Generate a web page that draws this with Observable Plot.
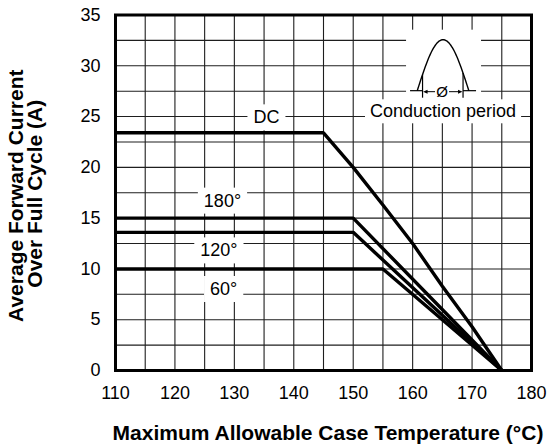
<!DOCTYPE html>
<html><head><meta charset="utf-8">
<script src="https://cdn.jsdelivr.net/npm/d3@7"></script>
<script src="https://cdn.jsdelivr.net/npm/@observablehq/plot@0.6"></script>
<style>body{margin:0;background:#fff;}</style>
</head><body><div id="chart"></div>
<script>
// ---- data ----
const xTicks = [110,120,130,140,150,160,170,180];
const yTicks = [0,5,10,15,20,25,30,35];
const xGrid = [110,115,120,125,130,135,140,145,150,155,160,165,170,175,180];
const yGrid = [0,2.5,5,7.5,10,12.5,15,17.5,20,22.5,25,27.5,30,32.5,35];

const dcTemp = [110,145,150,155,160,165,170,175];
const dcCurrent = [23.4,23.4,20,16.3,12.5,8.3,4.3,0];
const deg180Temp = [110,150,175];
const deg180Current = [15,15,0];
const deg120Temp = [110,150,175];
const deg120Current = [13.6,13.6,0];
const deg60Temp = [110,155,175];
const deg60Current = [10,10,0];

const labelText = ["DC","180°","120°","60°"];
const labelX = [135.4,128,127.4,128.2];
const labelY = [24.9,16.7,11.8,8.0];

const insetCenterX = 165.2;
const insetBaseY = 27.5;
const insetLabel = "Conduction period";
const insetLabelY = 25.5;

const xTitle = "Maximum Allowable Case Temperature (°C)";
const yTitle1 = "Average Forward Current";
const yTitle2 = "Over Full Cycle (A)";

// ---- build tables ----
const curves = [
  ...dcTemp.map((t,i)=>({temp:t, current:dcCurrent[i], s:"DC"})),
  ...deg180Temp.map((t,i)=>({temp:t, current:deg180Current[i], s:"180"})),
  ...deg120Temp.map((t,i)=>({temp:t, current:deg120Current[i], s:"120"})),
  ...deg60Temp.map((t,i)=>({temp:t, current:deg60Current[i], s:"60"}))
];
const labels = labelText.map((t,i)=>({text:t, x:labelX[i], y:labelY[i]}));

const FONT = "'Liberation Sans', Arial, Helvetica, sans-serif";

const chart = Plot.plot({
  width: 548,
  height: 444,
  marginLeft: 115,
  marginRight: 17,
  marginTop: 14.5,
  marginBottom: 74,
  x: {domain: [110,180]},
  y: {domain: [0,35]},
  style: {fontFamily: FONT, background: "white", color: "black"},
  marks: [
    Plot.ruleX(xGrid, {stroke: "#1e1e1e", strokeWidth: 1.1}),
    Plot.ruleY(yGrid, {stroke: "#1e1e1e", strokeWidth: 1.1}),
    Plot.text(labels, {x: "x", y: "y", text: "text", fontSize: 18, fill: "black"}),
    Plot.line(curves, {x: "temp", y: "current", z: "s", stroke: "black", strokeWidth: 3.4, strokeLinejoin: "miter", strokeLinecap: "butt"}),
    Plot.frame({stroke: "black", strokeWidth: 3}),
    Plot.axisX(xTicks, {tickSize: 0, tickPadding: 16, fontSize: 18, label: null}),
    Plot.axisY(yTicks, {tickSize: 0, tickPadding: 15, fontSize: 18, label: null}),
    Plot.text([xTitle], {frameAnchor: "bottom", textAnchor: "middle", dx: 4.5, dy: 69, lineAnchor: "bottom", fontSize: 21, fontWeight: "bold", text: d => d}),
    Plot.text([yTitle1], {frameAnchor: "left", textAnchor: "middle", rotate: -90, dx: -92.5, dy: 3, lineAnchor: "bottom", fontSize: 21, fontWeight: "bold", text: d => d}),
    Plot.text([yTitle2], {frameAnchor: "left", textAnchor: "middle", rotate: -90, dx: -74, dy: 1, lineAnchor: "bottom", fontSize: 21, fontWeight: "bold", text: d => d})
  ]
});
document.getElementById("chart").append(chart);

const NS = "http://www.w3.org/2000/svg";
function boxBehind(textEl, padX, padY) {
  const b = textEl.getBBox();
  const r = document.createElementNS(NS, "rect");
  r.setAttribute("x", b.x - padX);
  r.setAttribute("y", b.y - padY);
  r.setAttribute("width", b.width + 2*padX);
  r.setAttribute("height", b.height + 2*padY);
  r.setAttribute("fill", "white");
  const tr = textEl.getAttribute("transform");
  if (tr) r.setAttribute("transform", tr);
  textEl.parentNode.insertBefore(r, textEl);
}
d3.select(chart).selectAll("text")
  .filter(function(){ return labelText.includes(this.textContent.trim()); })
  .each(function(){ boxBehind(this, 6, 3); });

// ---- inset (conduction period glyph) ----
const sx = chart.scale("x"), sy = chart.scale("y");
const cx = sx.apply(insetCenterX), by = sy.apply(insetBaseY);
const svg = d3.select(chart);
const g = svg.append("g").attr("aria-label", "inset");
g.append("rect").attr("x", cx-37).attr("y", by-61).attr("width", 75).attr("height", 74).attr("fill", "white");
const hw = 25.8, hh = 51;
const humpY = px => by - hh*Math.sin(Math.PI*(px-(cx-hw))/(2*hw));
const pts = d3.range(0, 61).map(i => { const px = cx-hw + 2*hw*i/60; return [px, humpY(px)]; });
g.append("path").attr("d", d3.line()(pts)).attr("fill","none").attr("stroke","black").attr("stroke-width",1.4);
const vl = cx-20.5, vr = cx+20;
g.append("line").attr("x1",vl).attr("x2",vl).attr("y1",humpY(vl)).attr("y2",by+7).attr("stroke","black").attr("stroke-width",1.2);
g.append("line").attr("x1",vr).attr("x2",vr).attr("y1",humpY(vr)).attr("y2",by+7).attr("stroke","black").attr("stroke-width",1.2);
g.append("line").attr("x1",cx-33).attr("x2",vl).attr("y1",by).attr("y2",by).attr("stroke","black").attr("stroke-width",1.2);
g.append("line").attr("x1",vr).attr("x2",cx+33).attr("y1",by).attr("y2",by).attr("stroke","black").attr("stroke-width",1.2);
const ay = by + 1;
g.append("line").attr("x1",cx-8).attr("x2",vl+3).attr("y1",ay).attr("y2",ay).attr("stroke","black").attr("stroke-width",1);
g.append("line").attr("x1",cx+6).attr("x2",vr-3).attr("y1",ay).attr("y2",ay).attr("stroke","black").attr("stroke-width",1);
g.append("path").attr("d", `M${vl+0.6},${ay} L${vl+5},${ay-2} L${vl+5},${ay+2} Z`).attr("fill","black");
g.append("path").attr("d", `M${vr-0.6},${ay} L${vr-5},${ay-2} L${vr-5},${ay+2} Z`).attr("fill","black");
g.append("text").attr("x", cx-1).attr("y", ay).attr("dy","0.35em").attr("text-anchor","middle")
  .attr("font-family", FONT).attr("font-size", 15).text("Ø");
const ct = g.append("text").attr("x", cx).attr("y", sy.apply(insetLabelY)).attr("dy","0.35em").attr("text-anchor","middle")
  .attr("font-family", FONT).attr("font-size", 18).text(insetLabel);
boxBehind(ct.node(), 5, 2);
</script>
</body></html>
